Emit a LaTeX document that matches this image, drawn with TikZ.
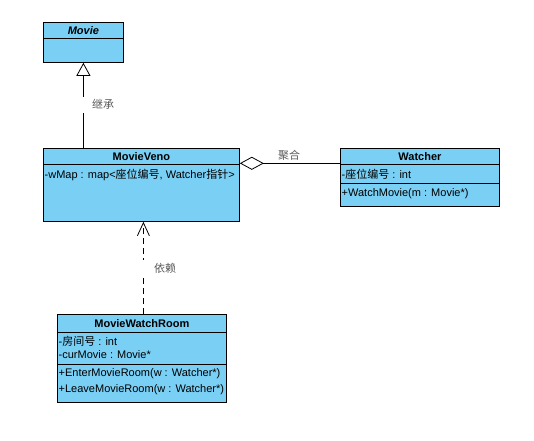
\documentclass[tikz,border=0pt]{standalone}
\usepackage{fontspec}
\setmainfont{Liberation Sans}
\newfontfamily\cjk{Noto Sans CJK SC}
\usetikzlibrary{arrows.meta,calc}
\definecolor{umlblue}{RGB}{122,207,245}
\begin{document}
\begin{tikzpicture}[x=1pt,y=-1pt,
  box/.style={draw=black, fill=umlblue, line width=0.8pt, inner sep=0pt, anchor=north west},
  ttl/.style={font=\fontsize{11}{13}\selectfont\bfseries},
  txt/.style={anchor=west, inner sep=0pt, font=\fontsize{11}{13}\selectfont},
  lbl/.style={font=\fontsize{11}{13}\selectfont\cjk, text=black!65, fill=white, inner ysep=3pt, inner xsep=14pt},
  lblplain/.style={font=\fontsize{11}{13}\selectfont\cjk, text=black!65, inner sep=1pt},
  conn/.style={draw=black, line width=0.8pt}]
\useasboundingbox (0,0) rectangle (534,440);

% Movie
\node[box, ttl, minimum width=80pt, minimum height=16pt] (movieH) at (43,22) {\itshape Movie};
\node[box, minimum width=80pt, minimum height=24pt] (movieB) at (43,38) {};

% MovieVeno
\node[box, ttl, minimum width=196pt, minimum height=16pt] (venoH) at (43,148) {MovieVeno};
\node[box, minimum width=196pt, minimum height=57pt] (venoB) at (43,164) {};
\node[txt] (venoA) at (44.5,174.5) {-wMap : map<{\cjk 座位编号}, Watcher{\cjk 指针}>};

% Watcher
\node[box, ttl, minimum width=159pt, minimum height=16pt] (watH) at (340,148) {Watcher};
\node[box, minimum width=159pt, minimum height=19pt] (watA) at (340,164) {};
\node[box, minimum width=159pt, minimum height=23pt] (watO) at (340,183) {};
\node[txt] (watAt) at (341.5,174) {-{\cjk 座位编号} : int};
\node[txt] (watOt) at (341.5,193.5) {+WatchMovie(m : Movie*)};

% MovieWatchRoom
\node[box, ttl, minimum width=169pt, minimum height=18pt] (roomH) at (57,314) {MovieWatchRoom};
\node[box, minimum width=169pt, minimum height=32pt] (roomA) at (57,332) {};
\node[box, minimum width=169pt, minimum height=38pt] (roomO) at (57,364) {};
\node[txt] (roomA1) at (58.5,341) {-{\cjk 房间号} : int};
\node[txt] (roomA2) at (58.5,355) {-curMovie : Movie*};
\node[txt] (roomO1) at (58.5,374) {+EnterMovieRoom(w : Watcher*)};
\node[txt] (roomO2) at (58.5,389.5) {+LeaveMovieRoom(w : Watcher*)};

% Inheritance
\draw[conn, -{Triangle[open, length=13pt, width=14pt, fill=white]}]
  (movieB.south |- venoH.north) -- (movieB.south);
\node[lbl] (inhL) at (103,104.5) {继承};

% Aggregation
\coordinate (aggA) at ($(watH.south west)+(0,-1.5)$);
\draw[conn, -{Diamond[open, length=24pt, width=13pt, fill=white]}]
  (aggA) -- (aggA -| venoH.east);
\node[lblplain] (aggL) at (289,155) {聚合};

% Dependency
\coordinate (depA) at ($(roomH.north)+(1.5,0)$);
\draw[conn, dash pattern=on 6pt off 4pt, -{Straight Barb[length=13pt, width=12pt]}]
  (depA) -- (depA |- venoB.south);
\node[lbl] (depL) at (165,268) {依赖};
\end{tikzpicture}
\end{document}
